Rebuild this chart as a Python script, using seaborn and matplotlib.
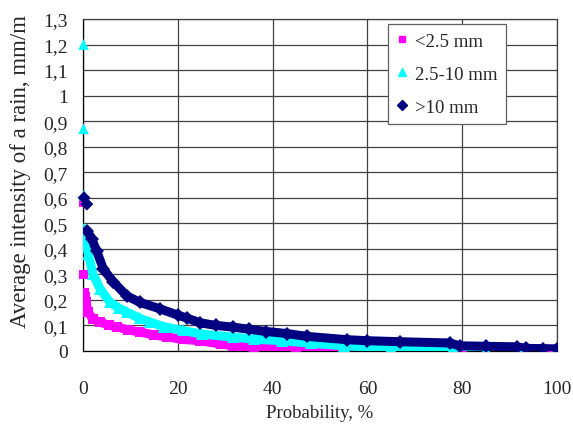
import matplotlib
matplotlib.use("Agg")
from matplotlib import pyplot as plt
import seaborn as sns
import pandas as pd
from matplotlib.ticker import FuncFormatter

# values (probability %, intensity mm/m)
# isolated points at the start of each series
light_head_p = [0.0, 0.0]
light_head_v = [0.58, 0.30]
mid_head_p = [0.1, 0.1, 0.2]
mid_head_v = [1.20, 0.87, 0.61]
heavy_head_p = [0.2, 0.8]
heavy_head_v = [0.60, 0.575]

# dense part of each series
light_p = [0.1, 0.3, 0.6, 1.1, 2.0, 3.6, 5.5, 7.2, 9.5, 12, 15, 17.7, 21, 24.7, 29, 31.7,
           36, 45, 55, 65, 80, 93, 98]
light_v = [0.228, 0.21, 0.19, 0.153, 0.125, 0.113, 0.10, 0.094, 0.082, 0.074, 0.062, 0.055,
           0.045, 0.04, 0.027, 0.02, 0.014, 0.01, 0.006, 0.004, 0.003, 0.003, 0.003]
mid_p = [0.1, 0.3, 0.6, 1.1, 2.1, 3.6, 5.7, 7.5, 9.2, 12, 14.1, 17, 21, 25, 31.7, 36, 42,
         48, 55, 65, 78, 85, 93, 99.5]
mid_v = [0.478, 0.46, 0.42, 0.38, 0.30, 0.243, 0.19, 0.168, 0.152, 0.127, 0.113, 0.095,
         0.08, 0.066, 0.054, 0.046, 0.04, 0.03, 0.02, 0.012, 0.01, 0.003, 0.002, 0.0]
heavy_p = [0.9, 1.8, 2.9, 4.3, 6.4, 9.2, 12, 16.2, 20, 22, 24.7, 28, 31.7, 35, 38.7, 43,
           47.2, 55.6, 60, 66.9, 77.4, 79.5, 85, 91.6, 93.5, 97, 100]
heavy_v = [0.47, 0.44, 0.39, 0.32, 0.27, 0.216, 0.19, 0.165, 0.14, 0.128, 0.11, 0.10, 0.093,
           0.085, 0.076, 0.068, 0.057, 0.044, 0.04, 0.036, 0.031, 0.02, 0.018, 0.016, 0.01,
           0.009, 0.008]

labels = ["<2.5 mm", "2.5-10 mm", ">10 mm"]
colors = ["#FF00FF", "#00FFFF", "#000080"]
markers = ["s", "^", "D"]

sns.set_style("white")
plt.rcParams['font.family'] = ['Liberation Serif', 'DejaVu Serif']

fig = plt.figure(figsize=(5.73, 4.35), dpi=100)
ax = fig.add_axes([0.145, 0.191, 0.827, 0.763])

series = [
    (light_head_p, light_head_v, light_p, light_v),
    (mid_head_p, mid_head_v, mid_p, mid_v),
    (heavy_head_p, heavy_head_v, heavy_p, heavy_v),
]
msizes = [6, 7, 6]
for (hp, hv, p, v), lab, c, m, ms in zip(series, labels, colors, markers, msizes):
    df = pd.DataFrame({"p": p, "v": v})
    sns.lineplot(data=df, x="p", y="v", color=c, lw=6.5, ax=ax, zorder=3,
                 marker=m, markersize=ms + 1, markeredgewidth=0, sort=False)
    hd = pd.DataFrame({"p": hp, "v": hv})
    sns.scatterplot(data=hd, x="p", y="v", color=c, marker=m, s=ms ** 2 * 1.2,
                    edgecolor="none", ax=ax, zorder=3, clip_on=False)
    ax.plot([], [], ls="none", marker=m, color=c, markersize=ms - 1, label=lab)

ax.set_xlim(0, 100)
ax.set_ylim(0, 1.3)
ax.set_xticks(range(0, 101, 20))
ax.set_yticks([i / 10 for i in range(14)])
ax.yaxis.set_major_formatter(FuncFormatter(lambda y, _: f"{y:g}".replace(".", ",")))
ax.grid(True, color="#404040", lw=0.9)
for s in ax.spines.values():
    s.set_color("#404040")
    s.set_linewidth(0.9)
ax.spines["left"].set_color("black")
ax.spines["bottom"].set_color("black")
ax.tick_params(axis="both", direction="out", length=6, color="#404040", labelsize=14)
ax.tick_params(axis="x", pad=15)
ax.tick_params(axis="y", pad=5)
ax.set_xlabel("Probability, %", fontsize=13.5, labelpad=5)
ax.set_ylabel("Average intensity of a rain, mm/m", fontsize=16.5)
ax.yaxis.set_label_coords(-0.11, 0.545)

leg = ax.legend(loc="upper left", bbox_to_anchor=(0.643, 0.985), borderaxespad=0,
                fontsize=13.5, frameon=True, fancybox=False, edgecolor="#606060",
                handlelength=0.6, handletextpad=0.4, labelspacing=0.85,
                borderpad=0.45, framealpha=1)
leg.get_frame().set_linewidth(0.9)

fig.savefig("out.png", dpi=100)
